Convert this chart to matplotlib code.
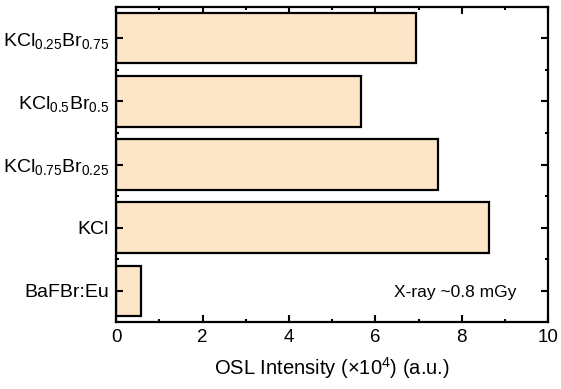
import matplotlib
matplotlib.use("Agg")
import matplotlib.pyplot as plt
from matplotlib.ticker import MultipleLocator, FixedLocator

plt.rcParams['font.family'] = ['Liberation Sans', 'DejaVu Sans']
plt.rcParams['mathtext.fontset'] = 'custom'
plt.rcParams['mathtext.rm'] = 'Liberation Sans'
plt.rcParams['mathtext.it'] = 'Liberation Sans:italic'
plt.rcParams['mathtext.bf'] = 'Liberation Sans:bold'

categories = ['BaFBr:Eu', 'KCl', r'KCl$_{0.75}$Br$_{0.25}$',
              r'KCl$_{0.5}$Br$_{0.5}$', r'KCl$_{0.25}$Br$_{0.75}$']
values = [0.58, 8.63, 7.44, 5.68, 6.94]

fig = plt.figure(figsize=(5.61, 3.89), dpi=100)
ax = fig.add_axes([0.207, 0.171, 0.770, 0.812])

ypos = list(range(len(categories)))
ax.barh(ypos, values, height=0.8, color='#FDE5C7', edgecolor='black', linewidth=1.6)

ax.set_xlim(0, 10)
ax.set_ylim(-0.5, len(categories) - 0.5)
ax.set_yticks(ypos)
ax.set_yticklabels(categories, fontsize=14)
ax.yaxis.set_minor_locator(FixedLocator([i + 0.5 for i in range(-1, len(categories))]))
ax.xaxis.set_major_locator(MultipleLocator(2))
ax.xaxis.set_minor_locator(MultipleLocator(1))
ax.tick_params(axis='x', labelsize=13.5)
ax.tick_params(which='both', direction='in', top=True, right=True, width=1.5)
ax.tick_params(which='major', length=5, pad=5)
ax.tick_params(which='minor', length=2.5)
for s in ax.spines.values():
    s.set_linewidth(1.6)

ax.set_xlabel('OSL Intensity (×10$^{4}$) (a.u.)', fontsize=14.5, labelpad=6)
ax.text(7.85, -0.02, 'X-ray ~0.8 mGy', fontsize=12.5, ha='center', va='center')

fig.savefig('out.png', dpi=100)
